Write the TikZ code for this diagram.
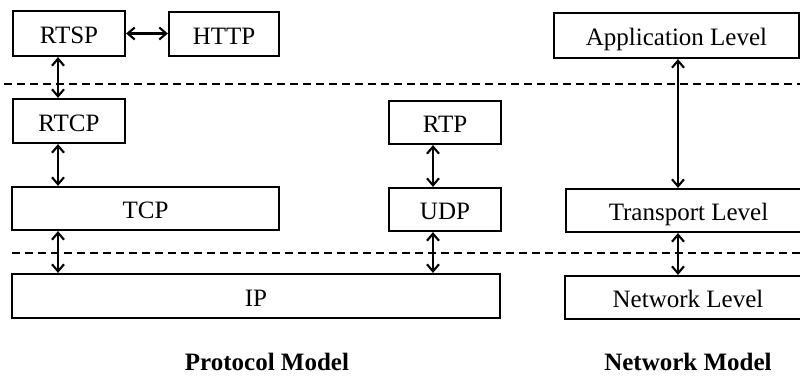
\documentclass[tikz,border=0pt]{standalone}
\usepackage{fontspec}
\setmainfont{Liberation Serif}
\usetikzlibrary{arrows.meta}
\begin{document}
\begin{tikzpicture}[x=1pt,y=-1pt,
  layer/.style={draw, line width=2.2pt, inner sep=0pt, anchor=center,
    text height=20pt, text depth=0pt,
    font=\fontsize{25}{30}\selectfont},
  link/.style={line width=2.1pt, {Straight Barb[length=7pt,width=12pt]}-{Straight Barb[length=7pt,width=12pt]}},
  divider/.style={line width=2pt, dash pattern=on 8pt off 5pt},
  caption/.style={inner sep=0pt, text height=17pt, text depth=0pt,
    font=\fontsize{25}{30}\selectfont\bfseries}]
\useasboundingbox (0,0) rectangle (800,376);
\clip (0,0) rectangle (800,376);
% columns of the vertical links
\coordinate (xL) at (58,0);
\coordinate (xU) at (433,0);
\coordinate (xN) at (678,0);
% protocol model
\node[layer, minimum width=112pt, minimum height=45pt] (rtsp) at (69,33.5) {RTSP};
\node[layer, minimum width=110pt, minimum height=44pt] (http) at (224,34) {HTTP};
\node[layer, minimum width=112pt, minimum height=44pt] (rtcp) at (69,121) {RTCP};
\node[layer, minimum width=267pt, minimum height=43pt] (tcp) at (145.5,208.5) {TCP};
\node[layer, minimum width=112pt, minimum height=43pt] (rtp) at (445,122.5) {RTP};
\node[layer, minimum width=112pt, minimum height=43pt] (udp) at (445,209.5) {UDP};
\node[layer, minimum width=488pt, minimum height=44pt] (ip) at (256,296) {IP};
% network model
\node[layer, minimum width=245pt, minimum height=45pt] (app) at (676.5,35.5) {Application Level};
\node[layer, minimum width=245pt, minimum height=43pt] (trans) at (688.5,210.5) {Transport Level};
\node[layer, minimum width=246pt, minimum height=43pt] (net) at (688,297.5) {Network Level};
% layer boundaries
\coordinate (d1a) at (4,84);
\coordinate (d1b) at (800,84);
\coordinate (d2a) at (12,252.5);
\coordinate (d2b) at (800,252.5);
\draw[divider] (d1a) -- (d1b);
\draw[divider] (d2a) -- (d2b);
% links
\draw[link] (rtsp.east) -- (http.west |- rtsp.east);
\draw[link] (rtsp.south -| xL) -- (rtcp.north -| xL);
\draw[link] (rtcp.south -| xL) -- (tcp.north -| xL);
\draw[link] (tcp.south -| xL) -- (ip.north -| xL);
\draw[link] (rtp.south -| xU) -- (udp.north -| xU);
\draw[link] (udp.south -| xU) -- (ip.north -| xU);
\draw[link] (app.south -| xN) -- (trans.north -| xN);
\draw[link] (trans.south -| xN) -- (net.north -| xN);
% captions
\node[caption] (pm) at (267,362) {Protocol Model};
\node[caption] (nm) at (688,362) {Network Model};
\end{tikzpicture}
\end{document}
